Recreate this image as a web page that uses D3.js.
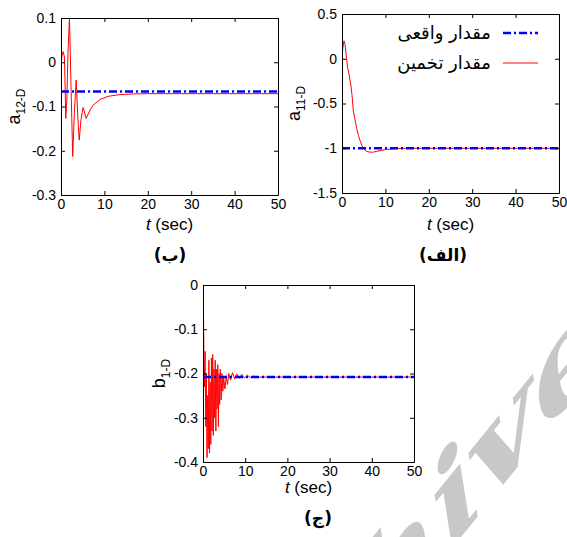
<!DOCTYPE html>
<html>
<head>
<meta charset="utf-8">
<script src="https://cdn.jsdelivr.net/npm/d3@7"></script>
<style>
  body { margin: 0; background: #fff; }
  svg text { font-family: Arial, "Liberation Sans", sans-serif; }
</style>
</head>
<body>
<svg id="chart" width="567" height="537"></svg>
<script>
// shared time axis
const timeDomain = [0, 50];
const timeTicks = [0, 10, 20, 30, 40, 50];

// panel (ب): a12-D
const a12Ticks = [0.1, 0, -0.1, -0.2, -0.3];
const a12Real = -0.066;
const a12Time = [0, 0.25, 0.5, 0.8, 1.1, 1.35, 1.6, 1.95, 2.3, 2.7, 3.1, 3.5, 3.85, 4.2, 4.6, 5.1, 5.8, 6.7, 7.4, 9.0, 10.9, 13.6, 17, 20, 50];
const a12Est = [0, 0.015, 0.024, 0.012, -0.127, -0.085, 0.02, 0.1, -0.05, -0.213, -0.11, -0.04, -0.12, -0.176, -0.13, -0.102, -0.127, -0.108, -0.097, -0.084, -0.077, -0.073, -0.0715, -0.071, -0.071];

// panel (الف): a11-D
const a11Ticks = [0.5, 0, -0.5, -1, -1.5];
const a11Real = -1;
const a11Time = [0, 0.2, 0.45, 0.7, 1.0, 1.3, 1.6, 2.0, 2.3, 2.6, 3.0, 3.4, 3.8, 4.2, 4.6, 5.0, 5.5, 6.0, 7.0, 8.0, 9.0, 10.0, 12, 15, 50];
const a11Est = [0, 0.12, 0.2, 0.16, 0.02, -0.1, -0.17, -0.28, -0.4, -0.58, -0.68, -0.78, -0.86, -0.92, -0.97, -1.0, -1.03, -1.04, -1.045, -1.035, -1.025, -1.015, -1.005, -1.0, -1.0];

// panel (ج): b1-D
const b1Ticks = [0, -0.1, -0.2, -0.3, -0.4];
const b1Real = -0.208;
const b1Time = [0, 0.1, 0.2, 0.35, 0.5, 0.65, 0.8, 0.95, 1.1, 1.25, 1.4, 1.55, 1.7, 1.85, 2.0, 2.15, 2.3, 2.45, 2.6, 2.75, 2.9, 3.05, 3.2, 3.35, 3.5, 3.65, 3.8, 3.95, 4.1, 4.3, 4.5, 4.7, 4.9, 5.2, 5.5, 5.8, 6.1, 6.5, 7.0, 7.5, 8.0, 8.6, 9.2, 9.8, 10.5, 11.2, 12, 13, 50];
const b1Est = [0, -0.05, -0.145, -0.23, -0.15, -0.32, -0.2, -0.39, -0.25, -0.37, -0.17, -0.38, -0.22, -0.36, -0.165, -0.33, -0.157, -0.34, -0.19, -0.30, -0.17, -0.33, -0.19, -0.28, -0.18, -0.32, -0.2, -0.27, -0.19, -0.26, -0.2, -0.24, -0.21, -0.235, -0.205, -0.225, -0.2, -0.215, -0.198, -0.212, -0.201, -0.211, -0.202, -0.21, -0.204, -0.209, -0.206, -0.208, -0.208];

// legend labels
const legendLabels = ["مقدار واقعی", "مقدار تخمین"];

const svg = d3.select("#chart");

// watermark behind everything
svg.append("text")
    .attr("transform", "translate(606,358) rotate(-9) skewY(-42)")
    .attr("text-anchor", "end")
    .style("font-family", "'DejaVu Serif', serif")
    .style("font-weight", "bold")
    .style("font-size", "122px")
    .attr("fill", "#c8c8c8")
    .text("Archive");

function drawPanel(p) {

    var x = d3.scaleLinear().domain(timeDomain).range([p.left, p.right]);
    var y = d3.scaleLinear().domain(d3.extent(p.ticks)).range([p.bottom, p.top]);

    var g = svg.append("g");

    // clip for the estimate line
    g.append("clipPath")
        .attr("id", p.id + "-clip")
        .append("rect")
        .attr("x", p.left)
        .attr("y", p.top)
        .attr("width", p.right - p.left)
        .attr("height", p.bottom - p.top);

    var line = d3.line()
        .x(d => x(d[0]))
        .y(d => y(d[1]));

    // estimate (red)
    g.append("path")
        .datum(d3.zip(p.time, p.est))
        .attr("clip-path", "url(#" + p.id + "-clip)")
        .attr("d", line)
        .attr("fill", "none")
        .attr("stroke", "#ff0000")
        .attr("stroke-width", 1);

    // real value (blue dash-dot)
    g.append("path")
        .datum(timeDomain.map(t => [t, p.real]))
        .attr("d", line)
        .attr("fill", "none")
        .attr("stroke", "#0000ff")
        .attr("stroke-width", 2.5)
        .attr("stroke-dasharray", "8,3,2,3");

    // axes, MATLAB style inward ticks on all four sides
    g.append("g")
        .attr("transform", "translate(0," + p.bottom + ")")
        .call(d3.axisBottom(x).tickValues(timeTicks).tickSizeInner(-4).tickSizeOuter(0).tickPadding(4).tickFormat(d3.format("d")));
    g.append("g")
        .attr("transform", "translate(" + p.left + ",0)")
        .call(d3.axisLeft(y).tickValues(p.ticks).tickSizeInner(-4).tickSizeOuter(0).tickPadding(5).tickFormat(d => String(d)));
    g.append("g")
        .attr("transform", "translate(0," + p.top + ")")
        .call(d3.axisTop(x).tickValues(timeTicks).tickSizeInner(-4).tickSizeOuter(0).tickFormat(""));
    g.append("g")
        .attr("transform", "translate(" + p.right + ",0)")
        .call(d3.axisRight(y).tickValues(p.ticks).tickSizeInner(-4).tickSizeOuter(0).tickFormat(""));

    g.selectAll(".tick text")
        .attr("fill", "#000")
        .style("font-family", "Arial, 'Liberation Sans', sans-serif")
        .style("font-size", p.tickSize + "px");
    g.selectAll(".domain, .tick line").attr("stroke", "#000");

    // y label with subscript
    var yl = g.append("text")
        .attr("transform", "translate(" + p.labelX + "," + ((p.top + p.bottom) / 2) + ") rotate(-90)")
        .attr("text-anchor", "middle")
        .style("font-size", "18px");
    yl.append("tspan").text(p.sym);
    yl.append("tspan").attr("dy", 5).style("font-size", "12px").text(p.sub);

    // x label
    var xl = g.append("text")
        .attr("x", (p.left + p.right) / 2)
        .attr("y", p.xlabelY)
        .attr("text-anchor", "middle")
        .style("font-size", "17px");
    xl.append("tspan").style("font-style", "italic").text("t");
    xl.append("tspan").text(" (sec)");

    // caption
    g.append("text")
        .attr("x", p.capX)
        .attr("y", p.capY)
        .attr("text-anchor", "middle")
        .style("font-family", "'DejaVu Sans', sans-serif")
        .style("font-weight", "bold")
        .style("font-size", "17px")
        .text(p.caption);

    return { x: x, y: y, g: g };
}

drawPanel({
    id: "b", left: 61, top: 18, right: 278, bottom: 195,
    ticks: a12Ticks, real: a12Real, time: a12Time, est: a12Est,
    sym: "a", sub: "12-D", labelX: 20, xlabelY: 230, tickSize: 14,
    caption: "(ب)", capX: 170, capY: 261
});

var pa = drawPanel({
    id: "alef", left: 342, top: 14, right: 559, bottom: 193,
    ticks: a11Ticks, real: a11Real, time: a11Time, est: a11Est,
    sym: "a", sub: "11-D", labelX: 300, xlabelY: 230, tickSize: 14,
    caption: "(الف)", capX: 443, capY: 261
});

drawPanel({
    id: "j", left: 203, top: 285, right: 414, bottom: 462,
    ticks: b1Ticks, real: b1Real, time: b1Time, est: b1Est,
    sym: "b", sub: "1-D", labelX: 165, xlabelY: 493, tickSize: 14,
    caption: "(ج)", capX: 318, capY: 524
});

// legend in panel (الف)
var legendStyles = [
    { stroke: "#0000ff", width: 2.5, dash: "8,3,2,3" },
    { stroke: "#ff0000", width: 1, dash: null }
];
var legend = pa.g.append("g");
legendLabels.forEach(function (label, i) {
    var ly = 33 + i * 30;
    legend.append("line")
        .attr("x1", 503).attr("x2", 538)
        .attr("y1", ly).attr("y2", ly)
        .attr("stroke", legendStyles[i].stroke)
        .attr("stroke-width", legendStyles[i].width)
        .attr("stroke-dasharray", legendStyles[i].dash);
    legend.append("text")
        .attr("x", 491)
        .attr("y", ly + 6)
        .attr("text-anchor", "end")
        .style("font-family", "'DejaVu Sans', sans-serif")
        .style("font-size", "18px")
        .text(label);
});
</script>
</body>
</html>
